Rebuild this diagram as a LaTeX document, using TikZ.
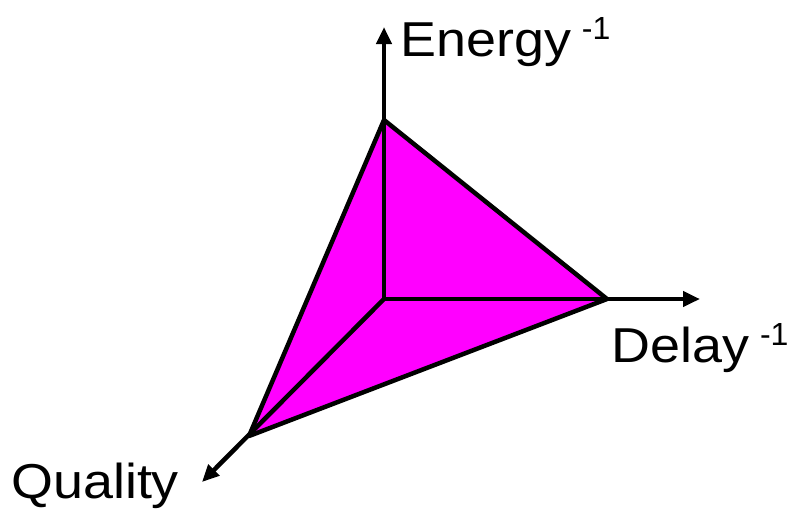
\documentclass[tikz,border=0pt]{standalone}
\usepackage{fontspec}
\setmainfont{Liberation Sans}[FakeStretch=1.1]
\newfontfamily\supfont{Liberation Sans}
\usetikzlibrary{arrows.meta}
\definecolor{facefill}{RGB}{255,0,255}
\newcommand{\inv}{\hspace{11pt}\raisebox{17pt}{\supfont\fontsize{32}{32}\selectfont -1}}

\begin{document}
\begin{tikzpicture}[x=1pt, y=-1pt,
    axis/.style={line width=4.5pt, -{Triangle[length=17pt, width=15pt]}},
    edge/.style={line width=4.5pt, line join=round},
    axislabel/.style={anchor=base west, inner sep=0pt, font=\fontsize{49}{56}\selectfont}]
    \useasboundingbox (0,0) rectangle (787,509);

    % Corners
    \coordinate (O) at (384,299);
    \coordinate (E) at (384,120);
    \coordinate (D) at (607,299);
    \coordinate (Q) at (249,436);

    % Faces
    \fill[facefill] (E) -- (D) -- (Q) -- cycle;

    % Axes
    \coordinate (Etip) at (384,27);
    \coordinate (Dtip) at (700,299);
    \coordinate (Qtip) at (202,482);
    \draw[axis] (O) -- (Etip);
    \draw[axis] (O) -- (Dtip);
    \draw[axis] (O) -- (Qtip);

    % Triangle
    \draw[edge] (E) -- (D) -- (Q) -- cycle;

    % Labels
    \node[axislabel] (energy) at (400,56) {Energy\inv};
    \node[axislabel] (delay) at (611,362) {Delay\inv};
    \node[axislabel] (quality) at (11,498) {Quality};
\end{tikzpicture}
\end{document}
